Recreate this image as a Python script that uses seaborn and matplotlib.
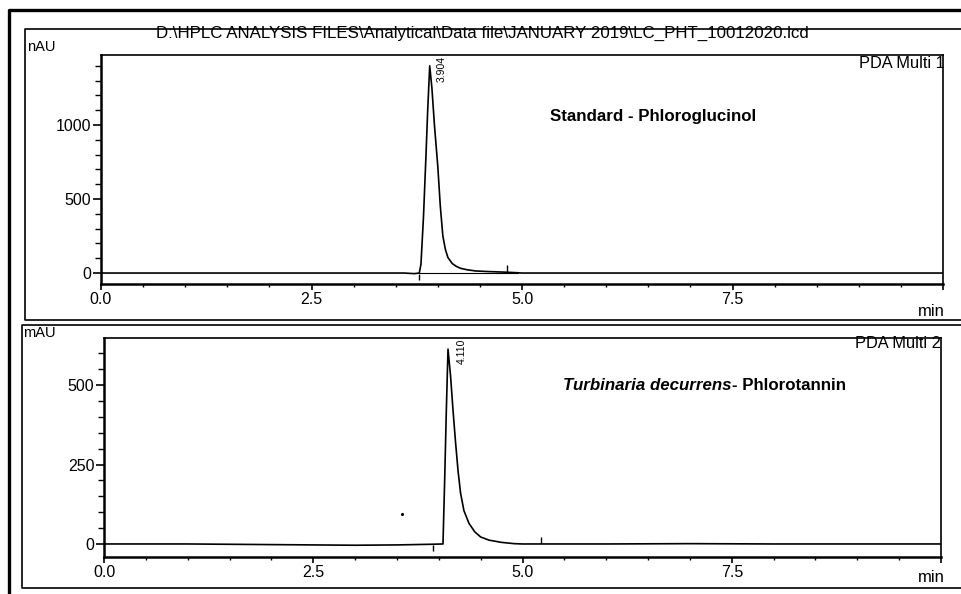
import matplotlib
matplotlib.use("Agg")
import matplotlib.pyplot as plt
from matplotlib.lines import Line2D
from matplotlib.ticker import MultipleLocator, FixedLocator
import seaborn as sns
import pandas as pd

# ---------------- data ----------------
std_time = [0.0, 1.0, 2.0, 3.0, 3.6, 3.72, 3.78, 3.80, 3.83, 3.86, 3.88, 3.904,
            3.93, 3.96, 4.00, 4.03, 4.06, 4.09, 4.12, 4.17, 4.22, 4.27, 4.35,
            4.45, 4.60, 4.80, 4.95, 5.0, 6.0, 7.0, 8.0, 9.0, 10.0]
std_signal = [0, 0, 0, 0, 0, -4, 0, 60, 380, 800, 1100, 1400,
              1250, 1000, 720, 450, 250, 160, 105, 65, 45, 32, 22,
              14, 10, 6, 2, 0, 0, 0, 0, 0, 0]

smp_time = [0.0, 1.0, 2.0, 3.0, 3.5, 3.9, 4.05, 4.07, 4.09, 4.11, 4.14, 4.17,
            4.20, 4.23, 4.26, 4.30, 4.36, 4.43, 4.50, 4.60, 4.75, 4.90, 5.0,
            6.0, 7.0, 8.0, 9.0, 10.0]
smp_signal = [0, 0, -2, -4, -3, -1, 0, 200, 420, 613, 530, 420,
              320, 230, 160, 105, 65, 38, 22, 12, 5, 1, 0,
              0, 1, 0, 0, 0]

std_rt = 3.904
smp_rt = 4.110
std_rt_label = "3.904"
smp_rt_label = "4.110"
std_marks = [3.78, 4.82]
smp_marks = [3.93, 5.22]
stray_point = (3.56, 94)

x_ticks = [0.0, 2.5, 5.0, 7.5, 10.0]
x_ticklabels = ["0.0", "2.5", "5.0", "7.5", ""]
std_yticks = [0, 500, 1000]
smp_yticks = [0, 250, 500]

header = r"D:\HPLC ANALYSIS FILES\Analytical\Data file\JANUARY 2019\LC_PHT_10012020.lcd"

# ---------------- style ----------------
sns.set_style("white")
plt.rcParams["font.family"] = ["Liberation Sans", "DejaVu Sans"]
plt.rcParams["text.color"] = "black"
plt.rcParams["axes.labelcolor"] = "black"
plt.rcParams["xtick.color"] = "black"
plt.rcParams["ytick.color"] = "black"

W, H = 961, 594
fig = plt.figure(figsize=(W / 100, H / 100), dpi=100)
fig.patch.set_facecolor("white")


def fx(px):
    return px / W


def fy(py):
    return 1 - py / H


def axes_px(left, top, right, bottom):
    return fig.add_axes([fx(left), fy(bottom), (right - left) / W, (bottom - top) / H])


def fig_line(xs, ys, lw):
    fig.add_artist(Line2D([fx(v) for v in xs], [fy(v) for v in ys],
                          transform=fig.transFigure, color="black", lw=lw,
                          solid_capstyle="butt"))


# outer frame and panel frames
fig_line([9, 9, 961], [594, 10, 10], 2.4)
fig_line([961, 25, 25, 961], [29, 29, 320, 320], 1.2)
fig_line([961, 22, 22, 961], [325, 325, 588, 588], 1.2)


def style_axes(ax, ylim, yticks, ymin_step):
    ax.set_xlim(0, 10)
    ax.set_ylim(*ylim)
    ax.set_facecolor("white")
    for side in ["left", "bottom"]:
        ax.spines[side].set_linewidth(1.8)
        ax.spines[side].set_color("black")
    for side in ["top", "right"]:
        ax.spines[side].set_linewidth(1.2)
        ax.spines[side].set_color("black")
        ax.spines[side].set_visible(True)
    ax.xaxis.set_major_locator(FixedLocator(x_ticks))
    ax.set_xticklabels(x_ticklabels)
    ax.xaxis.set_minor_locator(MultipleLocator(0.5))
    ax.yaxis.set_major_locator(FixedLocator(yticks))
    ax.yaxis.set_minor_locator(MultipleLocator(ymin_step))
    ax.tick_params(axis="x", which="major", direction="out", length=4, width=1.2,
                   labelsize=11.5, pad=2, bottom=True, colors="black")
    ax.tick_params(axis="x", which="minor", direction="out", length=2.5, width=1.0,
                   bottom=True)
    ax.tick_params(axis="y", which="major", direction="out", length=6, width=1.2,
                   labelsize=11.5, pad=1, left=True, colors="black")
    ax.tick_params(axis="y", which="minor", direction="out", length=4, width=1.0,
                   left=True)
    ax.set_xlabel("")
    ax.set_ylabel("")


# ---------------- top panel ----------------
ax1 = axes_px(101, 55, 943, 284)
df1 = pd.DataFrame({"time": std_time, "signal": std_signal})
sns.lineplot(data=df1, x="time", y="signal", ax=ax1, color="black", lw=1.2,
             estimator=None, sort=False)
ax1.plot([std_marks[0], std_marks[1] + 0.13], [0, 0], color="black", lw=0.8)
ax1.plot([std_marks[0]], [-25], marker="|", color="black", ms=5, mew=1.0)
ax1.plot([std_marks[1]], [28], marker="|", color="black", ms=6, mew=1.0)
ax1.text(std_rt + 0.14, 1465, std_rt_label, rotation=90, ha="center", va="top",
         fontsize=7.5)
style_axes(ax1, (-74, 1473), std_yticks, 100)

# ---------------- bottom panel ----------------
ax2 = axes_px(104, 338, 941, 557)
df2 = pd.DataFrame({"time": smp_time, "signal": smp_signal})
sns.lineplot(data=df2, x="time", y="signal", ax=ax2, color="black", lw=1.2,
             estimator=None, sort=False)
ax2.plot([smp_marks[0]], [-12], marker="|", color="black", ms=5, mew=1.0)
ax2.plot([smp_marks[1]], [12], marker="|", color="black", ms=5, mew=1.0)
ax2.plot([stray_point[0]], [stray_point[1]], marker=".", color="black", ms=2.5)
ax2.text(smp_rt + 0.16, 646, smp_rt_label, rotation=90, ha="center", va="top",
         fontsize=7.5)
style_axes(ax2, (-41, 648), smp_yticks, 50)

# ---------------- texts ----------------
fig.text(fx(482), fy(33), header, ha="center", va="center", fontsize=12.2)
fig.text(fx(27), fy(47), "nAU", ha="left", va="center", fontsize=10.5)
fig.text(fx(945), fy(63), "PDA Multi 1", ha="right", va="center", fontsize=11.8)
fig.text(fx(550), fy(117), "Standard - Phloroglucinol", ha="left", va="center",
         fontsize=12.2, fontweight="bold")
fig.text(fx(945), fy(311), "min", ha="right", va="center", fontsize=12)

fig.text(fx(23), fy(333), "mAU", ha="left", va="center", fontsize=10.5)
fig.text(fx(941), fy(344), "PDA Multi 2", ha="right", va="center", fontsize=11.8)
t_it = fig.text(fx(563), fy(386), "Turbinaria decurrens", ha="left", va="center",
                fontsize=12.2, fontweight="bold", fontstyle="italic")
fig.canvas.draw()
bb = t_it.get_window_extent(renderer=fig.canvas.get_renderer())
fig.text(bb.x1 / W, fy(386), "- Phlorotannin", ha="left", va="center",
         fontsize=12.2, fontweight="bold")
fig.text(fx(945), fy(578), "min", ha="right", va="center", fontsize=12)

fig.savefig("out.png", dpi=100, facecolor="white")
